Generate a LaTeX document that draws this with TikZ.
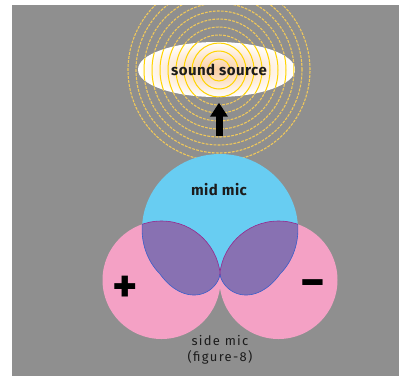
\documentclass[tikz,border=0pt]{standalone}
\usepackage{fontspec}
\setmainfont{Fira Sans}
\usetikzlibrary{shapes.geometric,arrows.meta}

\definecolor{bggray}{RGB}{143,143,143}
\definecolor{midblue}{RGB}{104,205,242}
\definecolor{sidepink}{RGB}{244,161,197}
\definecolor{lobeviolet}{RGB}{136,113,178}
\definecolor{ringgold}{RGB}{240,200,90}
\definecolor{ringyellow}{RGB}{255,212,0}
\definecolor{glow}{RGB}{250,206,160}
\definecolor{arcmagenta}{RGB}{150,40,140}
\definecolor{arcblue}{RGB}{64,92,200}
\definecolor{inkdark}{RGB}{28,28,28}

% cardioid of the mid microphone, cusp at (220,274), pointing up
\newcommand\cardioidpath{plot[domain=-90:270,samples=241,variable=\t]
  ({220+60*(1+sin(\t))*cos(\t)},{274-60*(1+sin(\t))*sin(\t)*(sin(\t)<0?1.4:1)}) -- cycle}
% the two lobes of the figure-8 side microphone
\newcommand\figeightpath{(161.5,280) circle[radius=59pt] (278.5,280) circle[radius=59pt]}

\tikzset{
  wave/.style={ringgold, line width=1.1pt, dash pattern=on 2.8pt off 1.2pt},
  wavecore/.style={ringyellow, line width=1pt},
  boldlbl/.style={font=\fontsize{15}{15}\selectfont\bfseries\addfontfeatures{LetterSpace=3}, text=inkdark, inner sep=0pt},
  sidelbl/.style={font=\fontsize{13}{16.5}\selectfont\addfontfeatures{LetterSpace=10}, text=inkdark, inner sep=0pt, align=center},
  signlbl/.style={font=\fontsize{48}{48}\selectfont\bfseries, text=black, inner sep=0pt},
}

\begin{document}
\begin{tikzpicture}[x=1pt,y=-1pt]
\useasboundingbox (0,0) rectangle (399,376);
\fill[white] (0,0) rectangle (399,376);
\fill[bggray] (12,5) rectangle (399,376);

% sound waves spreading from the source
\begin{scope}
  \clip (12,5) rectangle (399,376);
  \foreach \r in {11,19,...,91} \draw[wave] (219,70) circle[radius=\r pt];
\end{scope}

% side microphone (figure-8)
\fill[sidepink] \figeightpath;
% mid microphone (cardioid)
\fill[midblue] \cardioidpath;
% overlap of both patterns
\begin{scope}
  \clip \cardioidpath;
  \fill[lobeviolet] \figeightpath;
  \draw[arcmagenta, line width=0.6pt] \figeightpath;
\end{scope}
\begin{scope}
  \clip \figeightpath;
  \draw[arcblue, line width=0.6pt] \cardioidpath;
\end{scope}

% sound source
\node[ellipse, minimum width=157pt, minimum height=55pt, inner sep=0pt,
      draw=none, inner color=glow, outer color=white] (src) at (216.5,69.5) {};
\begin{scope}
  \clip (216.5,69.5) ellipse[x radius=78.5pt, y radius=27.5pt];
  \foreach \r in {11,19,...,91} \draw[wavecore] (219,70) circle[radius=\r pt];
\end{scope}
\node[boldlbl] (srclabel) at (219,70) {sound source};

% arrow towards the source
\coordinate (arrowtail) at (219,136);
\draw[line width=7pt, -{Triangle[width=17pt,length=14pt]}, shorten >=5.5pt]
  (arrowtail) -- (arrowtail |- src.south);

% labels
\node[boldlbl] (midlabel) at (219,190) {mid mic};
\node[signlbl] (plus) at (125.5,289.5) {+};
\node[signlbl] (minus) at (312.5,289.5) {−};
\node[sidelbl] (sidelabel) at (220,350) {side mic\\(figure-8)};
\end{tikzpicture}
\end{document}
